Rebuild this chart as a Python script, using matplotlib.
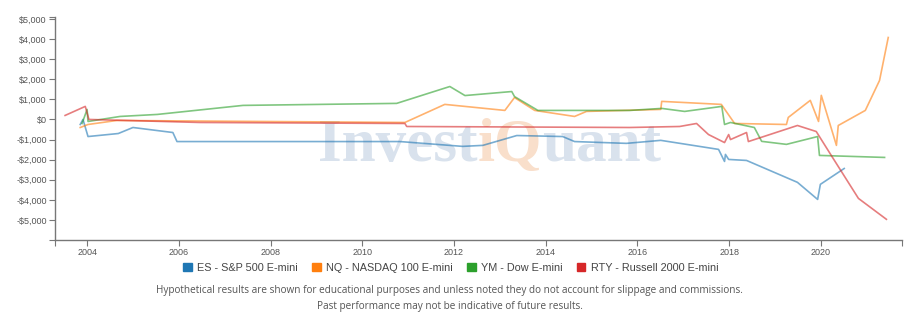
import matplotlib.pyplot as plt
from matplotlib.patches import Patch
from matplotlib.ticker import FuncFormatter

# values (year, dollars)
es_x = [2003.85, 2003.91, 2004.02, 2004.68, 2005.0, 2005.87, 2005.96, 2010.82, 2012.19, 2012.63,
        2013.37, 2014.37, 2014.63, 2015.76, 2016.51, 2017.77, 2017.90, 2017.92, 2017.99, 2018.38,
        2019.49, 2019.93, 2019.99, 2020.51]
es_y = [-250, 0, -850, -700, -400, -650, -1100, -1100, -1340, -1290,
        -800, -850, -1100, -1190, -1040, -1490, -2090, -1740, -1990, -2040,
        -3130, -3980, -3230, -2440]

nq_x = [2003.85, 2004.02, 2004.65, 2010.93, 2011.80, 2013.11, 2013.32, 2013.76, 2014.63, 2014.89,
        2016.51, 2016.53, 2017.83, 2018.12, 2019.25, 2019.29, 2019.77, 2019.95, 2020.01, 2020.34,
        2020.38, 2020.97, 2021.28, 2021.47]
nq_y = [-400, -250, -50, -150, 750, 450, 1090, 450, 150, 400,
        500, 900, 750, -200, -250, 100, 950, -100, 1200, -1290,
        -300, 450, 1940, 4080]

ym_x = [2003.89, 2004.0, 2004.02, 2004.72, 2005.53, 2007.40, 2010.75, 2011.91, 2012.24, 2013.26,
        2013.32, 2013.83, 2015.83, 2016.53, 2017.03, 2017.84, 2017.90, 2018.03, 2018.55, 2018.71,
        2019.25, 2019.93, 2019.97, 2021.39]
ym_y = [-200, 500, -100, 150, 250, 700, 800, 1640, 1190, 1390,
        1140, 450, 450, 550, 400, 650, -250, -150, -400, -1090,
        -1240, -850, -1790, -1890]

rty_x = [2003.52, 2003.96, 2004.04, 2006.46, 2010.93, 2010.97, 2015.83, 2016.92, 2017.29, 2017.55,
         2017.90, 2017.99, 2018.03, 2018.38, 2018.42, 2019.49, 2019.90, 2020.23, 2020.82, 2021.43]
rty_y = [200, 650, 0, -150, -200, -350, -400, -350, -200, -750,
         -1150, -750, -1000, -650, -1100, -300, -600, -1800, -3930, -4970]

labels = ["ES - S&P 500 E-mini", "NQ - NASDAQ 100 E-mini", "YM - Dow E-mini", "RTY - Russell 2000 E-mini"]
colors = ["#1f77b4", "#ff7f0e", "#2ca02c", "#d62728"]
x_ticks = [2004, 2006, 2008, 2010, 2012, 2014, 2016, 2018, 2020]
y_ticks = [-5000, -4000, -3000, -2000, -1000, 0, 1000, 2000, 3000, 4000, 5000]

plt.rcParams['font.family'] = ['Liberation Sans', 'DejaVu Sans']

fig = plt.figure(figsize=(9.2, 3.17), dpi=100)
ax = fig.add_axes([55/920, 1-240/317, 847/920, 223/317])

series = [(es_x, es_y), (nq_x, nq_y), (ym_x, ym_y), (rty_x, rty_y)]
for (sx, sy), c in zip(series, colors):
    ax.plot(sx, sy, color=c, lw=1.2, alpha=0.6, zorder=3)

ax.set_xlim(2003.3, 2021.77)
ax.set_ylim(-6000, 5100)
ax.set_xticks(x_ticks)
ax.set_xticklabels([str(t) for t in x_ticks])
ax.set_yticks(y_ticks)
ax.yaxis.set_major_formatter(FuncFormatter(
    lambda v, p: ("-$" if v < 0 else "$") + format(int(abs(v)), ",")))
ax.set_xticks([2003.3, 2021.77], minor=True)
ax.set_yticks([-6000, 5100], minor=True)

for s in ["top", "right"]:
    ax.spines[s].set_visible(False)
for s in ["left", "bottom"]:
    ax.spines[s].set_color("#777777")
    ax.spines[s].set_linewidth(1.0)
ax.tick_params(which="both", direction="out", length=4, width=0.8, color="#777777",
               labelsize=6.5, labelcolor="#555555", pad=2)

# watermark
wm = dict(xycoords="axes fraction", fontsize=44, fontweight="bold",
          family="Liberation Serif", va="bottom", ha="left", zorder=1)
t1 = ax.annotate("Invest", xy=(0.3105, 0.295), color="#d9e2ed", **wm)
wm["xycoords"] = t1
t2 = ax.annotate("iQ", xy=(1, 0), color="#f9dfcb", **wm)
wm["xycoords"] = t2
ax.annotate("uant", xy=(1, 0), color="#d9e2ed", **wm)

handles = [Patch(facecolor=c, edgecolor=c) for c in colors]
fig.legend(handles, labels, loc="center", bbox_to_anchor=(0.49, 1-268/317), ncol=4,
           frameon=False, fontsize=7.8, handlelength=0.8, handleheight=0.8,
           handletextpad=0.5, columnspacing=1.3, labelcolor="#444444")

note = dict(ha="center", va="center", fontsize=7.2, color="#555555",
            family=["Open Sans", "DejaVu Sans"])
fig.text(0.489, 1-291/317, "Hypothetical results are shown for educational purposes and unless noted "
         "they do not account for slippage and commissions.", **note)
fig.text(0.489, 1-306/317, "Past performance may not be indicative of future results.", **note)

fig.savefig("out.png", dpi=100, facecolor="white")
